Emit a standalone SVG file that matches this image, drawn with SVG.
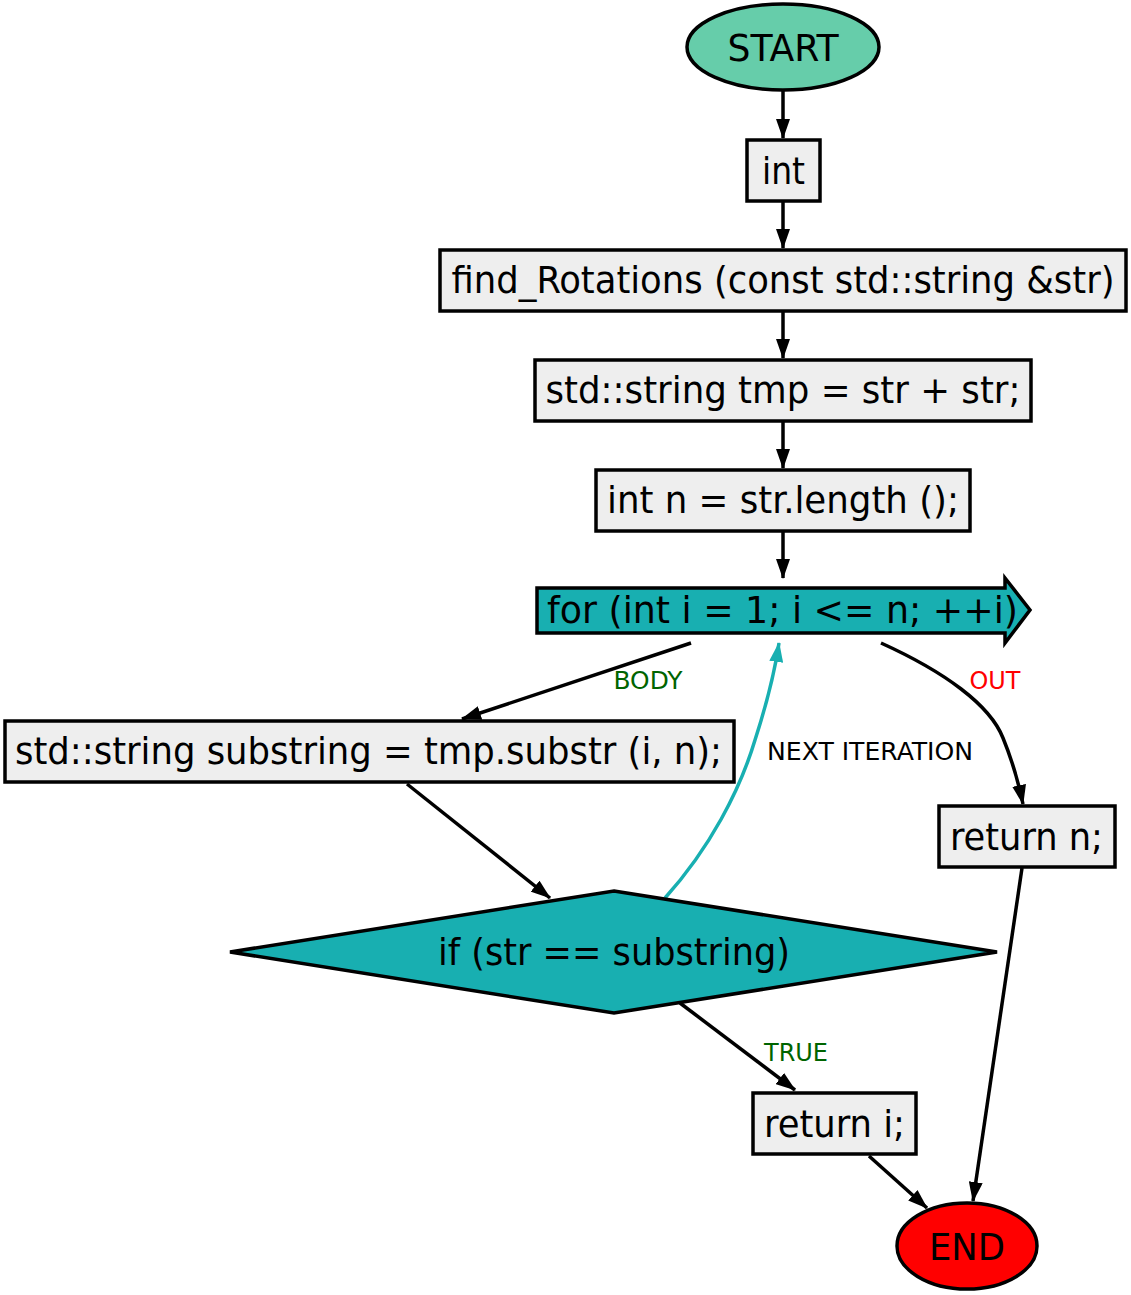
<svg xmlns="http://www.w3.org/2000/svg" width="1131" height="1295" viewBox="0 0 1131 1295">
<style>
.box{fill:#EEEEEE;stroke:#000;stroke-width:3.5}
.t{font-family:"DejaVu Sans Condensed","DejaVu Sans",sans-serif;font-size:38px;fill:#000;text-anchor:middle}
.l{font-family:"DejaVu Sans Condensed","DejaVu Sans",sans-serif;font-size:25px;text-anchor:middle}
.e{fill:none;stroke:#000;stroke-width:3.5}
.et{fill:none;stroke:#18AFB1;stroke-width:3.5}
</style>
<defs>
<marker id="ah" markerUnits="userSpaceOnUse" viewBox="0 0 20 14" refX="19" refY="7" markerWidth="20" markerHeight="14" orient="auto"><path d="M0,0 L20,7 L0,14 Z" fill="#000"/></marker>
<marker id="aht" markerUnits="userSpaceOnUse" viewBox="0 0 20 14" refX="19" refY="7" markerWidth="20" markerHeight="14" orient="auto"><path d="M0,0 L20,7 L0,14 Z" fill="#18AFB1"/></marker>
</defs>
<rect width="1131" height="1295" fill="#fff"/>
<g id="connectors">
<path class="e" d="M783,91 L783,138" marker-end="url(#ah)"/>
<path class="e" d="M783,201 L783,248" marker-end="url(#ah)"/>
<path class="e" d="M783,311 L783,358" marker-end="url(#ah)"/>
<path class="e" d="M783,421 L783,468" marker-end="url(#ah)"/>
<path class="e" d="M783,531 L783,578" marker-end="url(#ah)"/>
<path class="e" d="M691,643 L462,719" marker-end="url(#ah)"/>
<text class="l" x="648" y="689" fill="#006400" textLength="69" lengthAdjust="spacingAndGlyphs">BODY</text>
<path class="e" d="M881,643 C945,672 990,705 1003,738 C1012,760 1018,780 1023,804" marker-end="url(#ah)"/>
<text class="l" x="995" y="689" fill="#FF0000" textLength="51" lengthAdjust="spacingAndGlyphs">OUT</text>
<path class="e" d="M407,784 L550,898" marker-end="url(#ah)"/>
<path class="et" d="M665,898 C710,848 740,790 755,740 C768,700 775,670 779,643" marker-end="url(#aht)"/>
<text class="l" x="870" y="760" fill="#000" textLength="206" lengthAdjust="spacingAndGlyphs">NEXT ITERATION</text>
<path class="e" d="M680,1003 L795,1090" marker-end="url(#ah)"/>
<text class="l" x="796" y="1061" fill="#006400" textLength="64" lengthAdjust="spacingAndGlyphs">TRUE</text>
<path class="e" d="M869,1156 L927,1208" marker-end="url(#ah)"/>
<path class="e" d="M1022,868 L973,1201" marker-end="url(#ah)"/>
</g>
<g id="start">
<ellipse cx="783" cy="47" rx="96" ry="43" fill="#66CDAA" stroke="#000" stroke-width="3.5"/>
<text class="t" x="783" y="61" textLength="111" lengthAdjust="spacingAndGlyphs">START</text>
</g>
<g id="int">
<rect class="box" x="747" y="140" width="73" height="61"/>
<text class="t" x="783.5" y="184" textLength="43" lengthAdjust="spacingAndGlyphs">int</text>
</g>
<g id="find">
<rect class="box" x="440" y="250" width="686" height="61"/>
<text class="t" x="783" y="293" textLength="663" lengthAdjust="spacingAndGlyphs">find_Rotations (const std::string &amp;str)</text>
</g>
<g id="tmp">
<rect class="box" x="535" y="360" width="496" height="61"/>
<text class="t" x="783" y="403" textLength="475" lengthAdjust="spacingAndGlyphs">std::string tmp = str + str;</text>
</g>
<g id="n">
<rect class="box" x="596" y="470" width="374" height="61"/>
<text class="t" x="783" y="513" textLength="352" lengthAdjust="spacingAndGlyphs">int n = str.length ();</text>
</g>
<g id="for">
<path d="M537,588 L1005,588 L1005,578 L1030,610 L1005,643 L1005,633 L537,633 Z" fill="#18AFB1" stroke="#000" stroke-width="3.5"/>
<text class="t" x="782.5" y="623" textLength="471" lengthAdjust="spacingAndGlyphs">for (int i = 1; i &lt;= n; ++i)</text>
</g>
<g id="substring">
<rect class="box" x="5" y="721" width="729" height="61"/>
<text class="t" x="368.5" y="764" textLength="707" lengthAdjust="spacingAndGlyphs">std::string substring = tmp.substr (i, n);</text>
</g>
<g id="if">
<path d="M614,891 L997,952 L614,1013 L230,952 Z" fill="#18AFB1" stroke="#000" stroke-width="3.5"/>
<text class="t" x="614" y="965" textLength="352" lengthAdjust="spacingAndGlyphs">if (str == substring)</text>
</g>
<g id="returnn">
<rect class="box" x="939" y="806" width="176" height="61"/>
<text class="t" x="1026.5" y="850" textLength="153" lengthAdjust="spacingAndGlyphs">return n;</text>
</g>
<g id="returni">
<rect class="box" x="753" y="1093" width="163" height="61"/>
<text class="t" x="834.5" y="1137" textLength="141" lengthAdjust="spacingAndGlyphs">return i;</text>
</g>
<g id="end">
<ellipse cx="967" cy="1246" rx="70" ry="43" fill="#FF0000" stroke="#000" stroke-width="3.5"/>
<text class="t" x="967" y="1260" textLength="76" lengthAdjust="spacingAndGlyphs">END</text>
</g>
</svg>
